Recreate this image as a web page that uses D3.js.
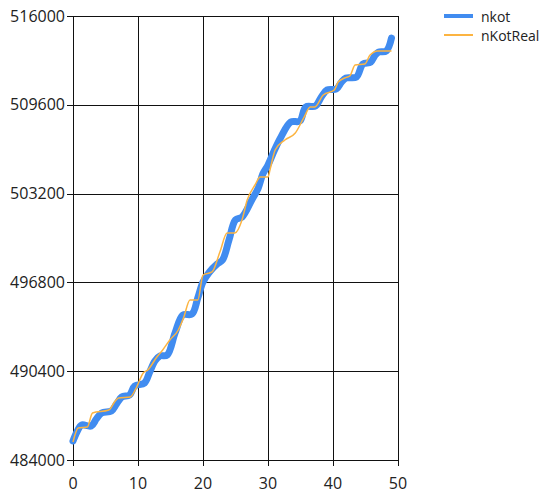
<!DOCTYPE html>
<html>
<head>
<meta charset="utf-8">
<script src="https://cdn.jsdelivr.net/npm/d3@7"></script>
<style>
  body { margin: 0; background: #fff; }
  text { font-family: "Open Sans", "Noto Sans", sans-serif; }
</style>
</head>
<body>
<div id="chart"></div>
<script>
// nkot series
var nkotX = [0,0.6,1.3,2.8,3.6,4.4,5.9,6.7,7.5,8.7,9.5,11.0,11.8,12.6,13.4,14.5,15.7,16.9,18.3,19.2,
  20.0,21.0,22.2,23.0,24.0,25.0,26.0,27.5,28.5,29.2,30.0,31.0,32.0,33.5,34.9,35.8,37.3,38.2,39.1,40.5,
  41.3,42.0,43.6,44.6,45.8,46.4,47.0,48.2,49.0];
var nkotY = [485370,486020,486520,486450,486960,487390,487530,488040,488540,488690,489330,489550,490340,491140,491500,491570,493150,494450,494520,495680,
  496830,497550,498130,498410,499860,501300,501510,502740,503600,504610,505260,506340,507280,508360,508430,509440,509510,510160,510670,510740,
  511240,511530,511600,512540,512680,513120,513400,513480,514410];

// nKotReal series
var realX = [0,0.8,2.2,3.0,5.5,6.5,7.0,8.8,9.8,10.8,11.5,12.9,13.8,14.9,16.2,17.0,18.0,19.2,20.0,21.4,
  22.6,23.7,24.9,26.0,26.8,28.0,28.8,30.0,30.3,31.1,32.6,34.2,35.5,36.5,37.2,38.5,40.2,40.8,41.8,42.6,
  43.4,44.9,45.7,46.9,49.0];
var realY = [485300,486310,486380,487390,487600,488250,488470,488540,489260,490270,490490,491420,491930,492650,493370,494230,495530,495530,497330,497550,
  498990,500360,500360,501300,502740,503820,504400,504400,504900,506340,507060,507570,508650,509440,509440,510310,510670,511240,511530,511680,
  512470,512540,513190,513480,513480];

var xTicks = [0, 10, 20, 30, 40, 50];
var yTicks = [484000, 490400, 496800, 503200, 509600, 516000];
var seriesNames = ["nkot", "nKotReal"];
var seriesColors = ["#418CF0", "#FCB441"];

var width = 550, height = 496;
var mLeft = 73, mRight = 398, mTop = 16, mBottom = 460;

var svg = d3.select("#chart").append("svg")
  .attr("width", width)
  .attr("height", height);

var x = d3.scaleLinear().domain([0, 50]).range([mLeft, mRight]);
var y = d3.scaleLinear().domain([484000, 516000]).range([mBottom, mTop]);

// grid
svg.append("g").selectAll("line")
  .data(xTicks).enter().append("line")
    .attr("x1", function(d){ return Math.round(x(d)) + 0.5 })
    .attr("x2", function(d){ return Math.round(x(d)) + 0.5 })
    .attr("y1", mTop)
    .attr("y2", mBottom + 6)
    .attr("stroke", "#111")
    .attr("stroke-width", 1);

svg.append("g").selectAll("line")
  .data(yTicks).enter().append("line")
    .attr("x1", mLeft - 6)
    .attr("x2", mRight)
    .attr("y1", function(d){ return Math.round(y(d)) + 0.5 })
    .attr("y2", function(d){ return Math.round(y(d)) + 0.5 })
    .attr("stroke", "#111")
    .attr("stroke-width", 1);

// axis labels
svg.append("g").selectAll("text")
  .data(yTicks).enter().append("text")
    .attr("x", mLeft - 8)
    .attr("y", function(d){ return y(d) })
    .attr("dy", "0.35em")
    .attr("text-anchor", "end")
    .attr("font-size", 16)
    .attr("fill", "#222")
    .text(function(d){ return d });

svg.append("g").selectAll("text")
  .data(xTicks).enter().append("text")
    .attr("x", function(d){ return x(d) })
    .attr("y", mBottom + 29)
    .attr("text-anchor", "middle")
    .attr("font-size", 16)
    .attr("fill", "#222")
    .text(function(d){ return d });

// lines
var smooth = d3.line()
  .x(function(d){ return x(d[0]) })
  .y(function(d){ return y(d[1]) })
  .curve(d3.curveCatmullRom.alpha(0.5));

var steps = d3.line()
  .x(function(d){ return x(d[0]) })
  .y(function(d){ return y(d[1]) })
  .curve(d3.curveMonotoneX);

var nkot = nkotX.map(function(v, i){ return [v, nkotY[i]] });
var real = realX.map(function(v, i){ return [v, realY[i]] });

svg.append("path")
  .datum(nkot)
  .attr("d", smooth)
  .attr("fill", "none")
  .attr("stroke", seriesColors[0])
  .attr("stroke-width", 7)
  .attr("stroke-linejoin", "round")
  .attr("stroke-linecap", "round");

svg.append("path")
  .datum(real)
  .attr("d", steps)
  .attr("fill", "none")
  .attr("stroke", seriesColors[1])
  .attr("stroke-width", 1.5);

// legend
var legend = svg.append("g");
seriesNames.forEach(function(name, i){
  var ly = 16 + i * 19;
  legend.append("line")
    .attr("x1", 444).attr("x2", 473)
    .attr("y1", ly).attr("y2", ly)
    .attr("stroke", seriesColors[i])
    .attr("stroke-width", i === 0 ? 4 : 2);
  legend.append("text")
    .attr("x", 481)
    .attr("y", ly + 1)
    .attr("dy", "0.35em")
    .attr("font-size", 14)
    .attr("fill", "#222")
    .text(name);
});
</script>
</body>
</html>
